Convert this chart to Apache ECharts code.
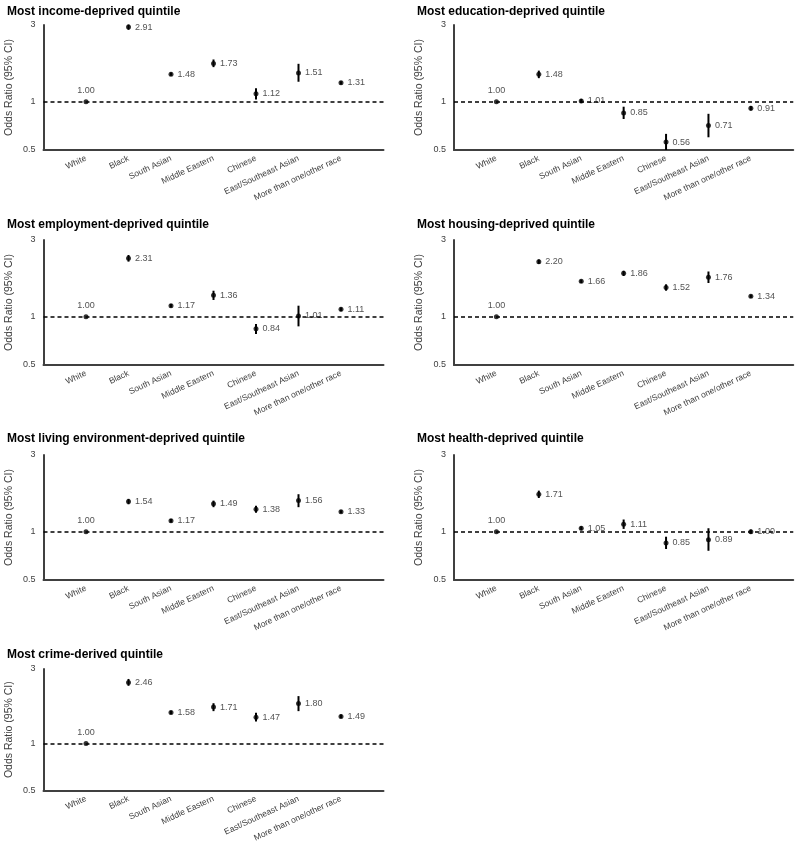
<!DOCTYPE html>
<html>
<head>
<meta charset="utf-8">
<script src="https://cdn.jsdelivr.net/npm/echarts@6/dist/echarts.min.js"></script>
<style>
html,body{margin:0;padding:0;background:#fff;}
#chart{width:796px;height:844px;}
</style>
</head>
<body>
<div id="chart"></div>
<script>
const categories = ['White','Black','South Asian','Middle Eastern','Chinese','East/Southeast Asian','More than one/other race'];
const titles = ['Most income-deprived quintile','Most education-deprived quintile','Most employment-deprived quintile','Most housing-deprived quintile','Most living environment-deprived quintile','Most health-deprived quintile','Most crime-derived quintile'];
const yTickValues = [0.5, 1, 3];
const yAxisName = 'Odds Ratio (95% CI)';

const incomeOR   = [1.00, 2.91, 1.48, 1.73, 1.12, 1.51, 1.31];
const incomeLow  = [1.00, 2.80, 1.45, 1.64, 1.03, 1.33, 1.28];
const incomeHigh = [1.00, 3.02, 1.52, 1.83, 1.21, 1.72, 1.34];

const educationOR   = [1.00, 1.48, 1.01, 0.85, 0.56, 0.71, 0.91];
const educationLow  = [1.00, 1.40, 0.98, 0.78, 0.50, 0.60, 0.88];
const educationHigh = [1.00, 1.56, 1.04, 0.93, 0.63, 0.84, 0.94];

const employmentOR   = [1.00, 2.31, 1.17, 1.36, 0.84, 1.01, 1.11];
const employmentLow  = [1.00, 2.20, 1.14, 1.27, 0.78, 0.87, 1.08];
const employmentHigh = [1.00, 2.42, 1.20, 1.45, 0.90, 1.17, 1.14];

const housingOR   = [1.00, 2.20, 1.66, 1.86, 1.52, 1.76, 1.34];
const housingLow  = [1.00, 2.13, 1.62, 1.79, 1.45, 1.62, 1.31];
const housingHigh = [1.00, 2.27, 1.70, 1.93, 1.59, 1.91, 1.37];

const livingOR   = [1.00, 1.54, 1.17, 1.49, 1.38, 1.56, 1.33];
const livingLow  = [1.00, 1.48, 1.14, 1.42, 1.31, 1.42, 1.30];
const livingHigh = [1.00, 1.60, 1.20, 1.56, 1.45, 1.71, 1.36];

const healthOR   = [1.00, 1.71, 1.05, 1.11, 0.85, 0.89, 1.00];
const healthLow  = [1.00, 1.62, 1.02, 1.04, 0.78, 0.76, 0.97];
const healthHigh = [1.00, 1.80, 1.08, 1.19, 0.93, 1.05, 1.03];

const crimeOR   = [1.00, 2.46, 1.58, 1.71, 1.47, 1.80, 1.49];
const crimeLow  = [1.00, 2.34, 1.54, 1.61, 1.38, 1.61, 1.45];
const crimeHigh = [1.00, 2.59, 1.62, 1.81, 1.57, 2.01, 1.53];

const panels = [
  [incomeOR, incomeLow, incomeHigh],
  [educationOR, educationLow, educationHigh],
  [employmentOR, employmentLow, employmentHigh],
  [housingOR, housingLow, housingHigh],
  [livingOR, livingLow, livingHigh],
  [healthOR, healthLow, healthHigh],
  [crimeOR, crimeLow, crimeHigh]
];

const FONT = 'Liberation Sans, Arial, sans-serif';
const colLeft = [43.5, 454];
const rowTop = [25, 240, 455, 669];
const rowH = [125, 125, 125, 124];
const titleTop = [1, 214, 428, 644];
const titleLeft = [2, 412];
const gridW = 340;

const option = {
  animation: false,
  backgroundColor: '#fff',
  title: [], grid: [], xAxis: [], yAxis: [], series: []
};

const xData = [''].concat(categories).concat(['']);

panels.forEach((p, i) => {
  const col = i % 2, row = Math.floor(i / 2);
  option.title.push({
    text: titles[i], left: titleLeft[col], top: titleTop[row],
    textStyle: {fontFamily: FONT, fontSize: 12, fontWeight: 'bold', color: '#000'}
  });
  option.grid.push({left: colLeft[col], top: rowTop[row], width: gridW, height: rowH[row]});
  option.xAxis.push({
    type: 'category', gridIndex: i, data: xData, boundaryGap: false,
    axisLine: {show: true, onZero: false, lineStyle: {color: '#404040', width: 2}},
    axisTick: {show: false}, splitLine: {show: false},
    axisLabel: {interval: 0, rotate: 25, margin: 8, fontSize: 8.5, color: '#404040', fontFamily: FONT}
  });
  option.yAxis.push({
    type: 'value', gridIndex: i, min: Math.log(0.5), max: Math.log(3),
    axisLine: {show: true, onZero: false, lineStyle: {color: '#404040', width: 2}},
    axisTick: {show: false}, splitLine: {show: false},
    axisLabel: {
      customValues: yTickValues.map(v => Math.log(v)),
      formatter: v => String(+Math.exp(v).toFixed(2)),
      fontSize: 9, color: '#404040', margin: 8, fontFamily: FONT
    },
    name: yAxisName, nameLocation: 'middle', nameGap: 29,
    nameTextStyle: {fontSize: 10.5, color: '#404040', fontFamily: FONT}
  });
  const [or, lo, hi] = p;
  // error bars
  option.series.push({
    type: 'custom', xAxisIndex: i, yAxisIndex: i, silent: true,
    data: or.map((v, k) => [k + 1, Math.log(lo[k]), Math.log(hi[k])]),
    encode: {x: 0, y: [1, 2]},
    renderItem: (params, api) => {
      const x = api.value(0);
      const a = api.coord([x, api.value(1)]);
      const b = api.coord([x, api.value(2)]);
      return {type: 'line', shape: {x1: a[0], y1: a[1], x2: b[0], y2: b[1]},
              style: {stroke: '#000', lineWidth: 2}};
    }
  });
  // points + labels + reference line
  option.series.push({
    type: 'scatter', xAxisIndex: i, yAxisIndex: i, silent: true,
    symbol: 'circle', symbolSize: 5, itemStyle: {color: '#000'},
    data: or.map((v, k) => ({
      value: [k + 1, Math.log(v)],
      label: k === 0 ? {position: 'top', distance: 4} : {position: 'right', distance: 4}
    })),
    label: {
      show: true, fontSize: 9, color: '#262626', fontFamily: FONT,
      formatter: prm => or[prm.dataIndex].toFixed(2)
    },
    markLine: {
      silent: true, symbol: ['none', 'none'], label: {show: false},
      lineStyle: {type: [4, 3], color: '#000', width: 1.5},
      data: [{yAxis: 0}]
    },
    z: 3
  });
});

const chart = echarts.init(document.getElementById('chart'), null, {renderer: 'canvas'});
chart.setOption(option);
</script>
</body>
</html>
